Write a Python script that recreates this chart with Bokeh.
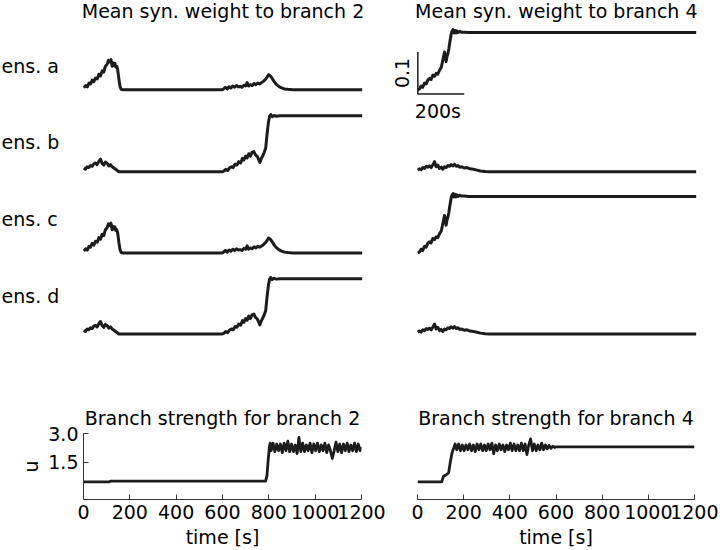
import math
from bokeh.plotting import figure
from bokeh.layouts import row, column
from bokeh.models import Label, FixedTicker, Range1d, PrintfTickFormatter
from bokeh.embed import file_html
from bokeh.resources import INLINE

FONT = "DejaVu Sans"
FS = "19px"
INK = "#1c1c1c"

# ---------------- data ----------------
# Mean synaptic weight to branch 2, ensembles a / c
L_AC_T = [0, 8, 15, 22, 29, 36, 43, 50, 58, 65, 72, 79, 86, 93, 101, 106, 112, 117, 122, 126,
          130, 134, 138, 142, 146, 151, 156, 161, 170, 597, 600, 610, 618, 626, 634, 642, 650,
          658, 666, 674, 682, 690, 698, 704, 710, 718, 726, 734, 742, 750, 758, 766, 774, 782,
          790, 797, 804, 812, 820, 828, 838, 850, 865, 880, 900, 1200]
L_AC_W = [0.015, 0.020, 0.017, 0.026, 0.024, 0.033, 0.029, 0.038, 0.036, 0.047, 0.043, 0.055,
          0.052, 0.066, 0.071, 0.080, 0.076, 0.082, 0.066, 0.074, 0.068, 0.073, 0.064, 0.066,
          0.058, 0.036, 0.018, 0.011, 0.010, 0.010, 0.011, 0.016, 0.012, 0.017, 0.014, 0.019,
          0.016, 0.020, 0.017, 0.018, 0.016, 0.021, 0.019, 0.027, 0.019, 0.022, 0.020, 0.025,
          0.022, 0.026, 0.024, 0.027, 0.030, 0.034, 0.040, 0.046, 0.043, 0.037, 0.030, 0.024,
          0.019, 0.015, 0.012, 0.011, 0.010, 0.010]

# Mean synaptic weight to branch 2, ensembles b / d
L_BD_T = [0, 7, 14, 21, 29, 36, 43, 50, 57, 64, 72, 79, 86, 93, 101, 108, 115, 122, 130, 137,
          144, 151, 597, 605, 612, 620, 628, 636, 644, 652, 660, 668, 676, 684, 690, 697, 704,
          711, 718, 725, 733, 740, 747, 753, 759, 765, 771, 777, 784, 790, 796, 801, 806, 812,
          820, 830, 845, 1200]
L_BD_W = [0.019, 0.016, 0.022, 0.020, 0.025, 0.023, 0.029, 0.031, 0.027, 0.034, 0.040, 0.030,
          0.026, 0.033, 0.030, 0.024, 0.027, 0.022, 0.019, 0.016, 0.013, 0.010, 0.010, 0.012,
          0.016, 0.013, 0.019, 0.022, 0.020, 0.028, 0.026, 0.034, 0.031, 0.042, 0.038, 0.047,
          0.043, 0.053, 0.047, 0.056, 0.058, 0.050, 0.047, 0.040, 0.032, 0.041, 0.048, 0.055,
          0.066, 0.100, 0.128, 0.142, 0.146, 0.141, 0.144, 0.142, 0.143, 0.143]

# Mean synaptic weight to branch 4, ensembles a / c
R_AC_T = [0, 7, 14, 21, 29, 36, 43, 50, 57, 65, 72, 79, 86, 94, 101, 108, 115, 119, 122, 126,
          130, 134, 137, 141, 144, 148, 152, 156, 160, 164, 168, 173, 180, 188, 200, 220, 1200]
R_AC_W = [0.010, 0.012, 0.019, 0.016, 0.026, 0.024, 0.033, 0.037, 0.034, 0.045, 0.042, 0.049,
          0.047, 0.057, 0.063, 0.081, 0.100, 0.086, 0.077, 0.090, 0.097, 0.108, 0.120, 0.133,
          0.143, 0.150, 0.153, 0.145, 0.151, 0.145, 0.150, 0.146, 0.149, 0.147, 0.147, 0.146,
          0.146]

# Mean synaptic weight to branch 4, ensembles b / d
R_BD_T = [0, 7, 14, 22, 29, 36, 43, 50, 58, 65, 72, 79, 86, 94, 101, 108, 115, 122, 130, 137,
          144, 151, 158, 166, 173, 180, 190, 200, 212, 225, 240, 255, 270, 290, 310, 1200]
R_BD_W = [0.014, 0.017, 0.015, 0.020, 0.018, 0.023, 0.021, 0.024, 0.020, 0.027, 0.034, 0.022,
          0.026, 0.018, 0.021, 0.016, 0.022, 0.020, 0.025, 0.023, 0.027, 0.024, 0.028, 0.023,
          0.025, 0.021, 0.022, 0.019, 0.020, 0.017, 0.016, 0.014, 0.012, 0.0105, 0.010, 0.010]

# Branch strength u for branch 2
U2_T = [0, 110, 116, 786, 792, 797, 802, 806, 810, 818, 826, 834, 842, 850, 858, 866, 874, 882,
        890, 898, 906, 914, 922, 930, 938, 946, 954, 962, 970, 978, 986, 994, 1002, 1010, 1018,
        1026, 1034, 1042, 1050, 1058, 1066, 1074, 1082, 1090, 1098, 1106, 1114, 1122, 1130,
        1138, 1146, 1154, 1162, 1170, 1178, 1186, 1194, 1200]
U2_V = [0.47, 0.47, 0.51, 0.51, 0.80, 1.60, 2.25, 2.50, 2.10, 2.50, 2.05, 2.45, 2.10, 2.45,
        2.00, 2.50, 2.10, 2.60, 2.05, 2.45, 2.05, 2.40, 1.95, 2.80, 2.05, 2.50, 2.05, 2.40,
        2.10, 2.50, 2.00, 2.45, 2.10, 2.50, 2.05, 2.40, 2.10, 2.50, 2.00, 2.40, 2.10, 1.70,
        2.10, 2.55, 2.05, 2.45, 2.00, 2.45, 2.10, 2.50, 2.05, 2.40, 2.10, 2.50, 2.05, 2.45,
        2.10, 2.30]

# Branch strength u for branch 4
U4_T = [0, 105, 112, 125, 135, 142, 150, 157, 163, 170, 178, 186, 194, 202, 210, 218, 226, 234,
        242, 250, 258, 266, 274, 282, 290, 298, 306, 314, 322, 330, 338, 346, 354, 362, 370,
        378, 386, 394, 402, 410, 418, 426, 434, 442, 450, 458, 466, 474, 482, 490, 498, 506,
        514, 522, 530, 538, 546, 554, 562, 570, 578, 586, 594, 600, 1200]
U4_V = [0.47, 0.47, 0.75, 0.85, 0.95, 1.50, 2.00, 2.25, 2.45, 2.15, 2.45, 2.10, 2.40, 2.10,
        2.40, 2.15, 2.45, 2.10, 2.40, 2.05, 2.45, 2.15, 2.45, 2.10, 2.40, 2.10, 2.45, 2.15,
        2.50, 1.95, 2.40, 2.10, 2.45, 2.15, 2.40, 2.05, 2.40, 2.15, 2.50, 2.10, 2.45, 2.10,
        2.40, 2.10, 2.50, 2.10, 2.45, 1.90, 2.40, 2.72, 2.10, 2.45, 2.10, 2.40, 2.15, 2.50,
        2.15, 2.40, 2.20, 2.38, 2.22, 2.34, 2.27, 2.30, 2.30]

ENSEMBLES = ["ens. a", "ens. b", "ens. c", "ens. d"]
TITLES_TOP = ["Mean syn. weight to branch 2", "Mean syn. weight to branch 4"]
TITLES_BOT = ["Branch strength for branch 2", "Branch strength for branch 4"]
X_TICKS = [0, 200, 400, 600, 800, 1000, 1200]
U_TICKS = [1.5, 3.0]
SCALE_BAR_T = 200
SCALE_BAR_W = 0.1

TOP_XR = (-10, 1210)
TOP_YR = (-0.025, 0.17)
BOT_XR = (0, 1200)
BOT_YR = (-0.45, 3.0)

# ---------------- layout helpers ----------------
TRACE_FW = 283                      # px covering TOP_XR
PX_PER_S = TRACE_FW / (TOP_XR[1] - TOP_XR[0])
ROW_FH = 82
PX_PER_W = ROW_FH / (TOP_YR[1] - TOP_YR[0])
LEFT_PAD = 81                       # space left of the left traces (for ensemble labels)
RIGHT_PAD = 26                      # space left of the right traces (for scale bar text)
TITLE_PAD = 22
BAR_TEXT_PAD = 16                   # extra room below right row a for the "200s" label


def base_fig(fw, fh, bl, br, bt, bb, xr, yr, x_axis=None, y_axis=None):
    p = figure(frame_width=fw, frame_height=fh, x_range=Range1d(*xr), y_range=Range1d(*yr),
               x_axis_location=x_axis, y_axis_location=y_axis,
               min_border_left=bl, min_border_right=br, min_border_top=bt, min_border_bottom=bb,
               toolbar_location=None, output_backend="svg", outline_line_color=None,
               background_fill_color="white", border_fill_color="white")
    p.xgrid.visible = False
    p.ygrid.visible = False
    return p


def add_text(p, text, x, y, align="left", xu="screen", yu="screen", angle=0.0, x_off=0):
    p.add_layout(Label(x=x, y=y, x_units=xu, y_units=yu, text=text, text_font=FONT,
                       text_font_size=FS, text_color="black", text_align=align,
                       text_baseline="middle", angle=angle, x_offset=x_off))


ens_label_y = [39, 44.5, 48.5, 52.8]
row_fh_left = [ROW_FH + TITLE_PAD, ROW_FH, 81, 81]
row_fh_right = [ROW_FH + TITLE_PAD + BAR_TEXT_PAD, ROW_FH - BAR_TEXT_PAD, 81, 81]
yr_left = [(TOP_YR[0], TOP_YR[1] + TITLE_PAD / PX_PER_W), TOP_YR, TOP_YR, TOP_YR]
yr_right = [(TOP_YR[0] - BAR_TEXT_PAD / PX_PER_W, TOP_YR[1] + TITLE_PAD / PX_PER_W),
            (TOP_YR[0], TOP_YR[1] - BAR_TEXT_PAD / PX_PER_W), TOP_YR, TOP_YR]
left_data = [(L_AC_T, L_AC_W), (L_BD_T, L_BD_W), (L_AC_T, L_AC_W), (L_BD_T, L_BD_W)]
right_data = [(R_AC_T, R_AC_W), (R_BD_T, R_BD_W), (R_AC_T, R_AC_W), (R_BD_T, R_BD_W)]

left_xr = (TOP_XR[0] - LEFT_PAD / PX_PER_S, TOP_XR[1])
right_xr = (TOP_XR[0] - RIGHT_PAD / PX_PER_S, TOP_XR[1])

left_figs, right_figs = [], []
for i in range(4):
    pl = base_fig(LEFT_PAD + TRACE_FW, row_fh_left[i], 0, 25, 0, 0, left_xr, yr_left[i])
    pr = base_fig(RIGHT_PAD + TRACE_FW, row_fh_right[i], 0, 20, 0, 0, right_xr, yr_right[i])
    pl.line(left_data[i][0], left_data[i][1], line_color=INK, line_width=3, line_join="round")
    pr.line(right_data[i][0], right_data[i][1], line_color=INK, line_width=3, line_join="round")
    add_text(pl, ENSEMBLES[i], 1, ens_label_y[i])
    if i == 0:
        add_text(pl, TITLES_TOP[0], 222.5, 93.8, align="center")
        add_text(pr, TITLES_TOP[1], 166.8, 93.8 + BAR_TEXT_PAD, align="center")
        # scale bar
        pr.line([0, 0, SCALE_BAR_T], [SCALE_BAR_W, 0, 0], line_color=INK, line_width=1.5)
        add_text(pr, "0.1", 0, SCALE_BAR_W / 2, align="center", xu="data", yu="data",
                 angle=math.pi / 2, x_off=-16)
        add_text(pr, "200s", 0, BAR_TEXT_PAD - 6, align="left", xu="data", x_off=-3)
    left_figs.append(pl)
    right_figs.append(pr)


def style_axis_common(ax):
    ax.major_tick_in = 5
    ax.major_tick_out = 0
    ax.minor_tick_line_color = None
    ax.axis_line_color = "#333333"
    ax.major_tick_line_color = "#333333"
    ax.major_label_text_font = FONT
    ax.major_label_text_font_size = FS
    ax.major_label_text_color = "black"
    ax.axis_label_text_font = FONT
    ax.axis_label_text_font_size = FS
    ax.axis_label_text_font_style = "normal"
    ax.axis_label_text_color = "black"


def style_x(p):
    ax = p.xaxis[0]
    style_axis_common(ax)
    ax.ticker = FixedTicker(ticks=X_TICKS)
    ax.major_label_standoff = 5
    ax.axis_label = "time [s]"
    ax.axis_label_standoff = 4


def style_title(p, text):
    p.title.text = text
    p.title.align = "center"
    p.title.text_font = FONT
    p.title.text_font_size = FS
    p.title.text_font_style = "normal"
    p.title.text_color = "black"
    p.title.standoff = 10


bl = base_fig(278, 66, 83, 28, 85, 50, BOT_XR, BOT_YR, x_axis="below", y_axis="left")
br = base_fig(277, 66, 28, 24, 85, 50, BOT_XR, BOT_YR, x_axis="below", y_axis=None)
style_x(bl)
style_x(br)
ay = bl.yaxis[0]
style_axis_common(ay)
ay.ticker = FixedTicker(ticks=U_TICKS)
ay.formatter = PrintfTickFormatter(format="%.1f")
ay.major_label_standoff = 5
ay.axis_label = "u"
ay.axis_label_standoff = 3

bl.line(U2_T, U2_V, line_color=INK, line_width=2.8, line_join="round")
br.line(U4_T, U4_V, line_color=INK, line_width=2.8, line_join="round")
style_title(bl, TITLES_BOT[0])
style_title(br, TITLES_BOT[1])

top_block = row(column(*left_figs, spacing=0), column(*right_figs, spacing=0), spacing=0)
bottom_block = row(bl, br, spacing=0)
root = column(top_block, bottom_block, spacing=0,
              styles={"position": "absolute", "left": "0px", "top": "0px"})

open("out.html", "w").write(file_html(root, INLINE))
